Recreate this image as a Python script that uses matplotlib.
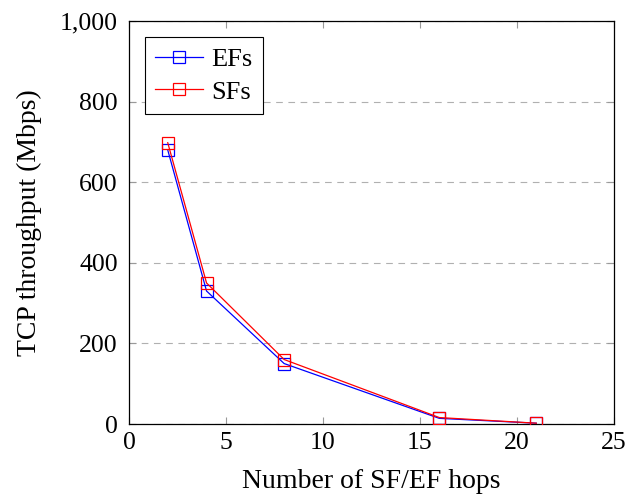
import matplotlib
matplotlib.use('Agg')
import matplotlib.pyplot as plt
from matplotlib.ticker import FuncFormatter

## Data
hops = [2, 4, 8, 16, 21]
ef_throughput = [680, 330, 150, 14, 2]
sf_throughput = [698, 350, 160, 16, 2]

plt.rcParams['font.family'] = ['Liberation Serif', 'DejaVu Serif']

fig = plt.figure(figsize=(6.29, 4.94), dpi=100)
ax = fig.add_axes([0.205, 0.1417, 0.771, 0.8158])

ax.plot(hops, ef_throughput, color='blue', lw=0.9, marker='s', markersize=8,
        markerfacecolor='none', markeredgewidth=0.9, label='EFs', zorder=3)
ax.plot(hops, sf_throughput, color='red', lw=0.9, marker='s', markersize=8,
        markerfacecolor='none', markeredgewidth=0.9, label='SFs', zorder=3)

ax.set_xlim(0, 25)
ax.set_ylim(0, 1000)
ax.set_xticks([0, 5, 10, 15, 20, 25])
ax.set_yticks([0, 200, 400, 600, 800, 1000])
ax.yaxis.set_major_formatter(FuncFormatter(lambda v, p: f'{int(v):,}'))
ax.yaxis.grid(True, color='#b0b0b0', linestyle=(0, (6, 5)), lw=0.8)
ax.set_axisbelow(True)
ax.tick_params(direction='in', top=True, right=True, length=5, width=0.8,
               color='#999999', labelsize=18.5)
ax.tick_params(axis='y', pad=8)
ax.tick_params(axis='x', pad=6)
for s in ax.spines.values():
    s.set_linewidth(0.9)

ax.set_xlabel('Number of SF/EF hops', fontsize=20)
ax.set_ylabel('TCP throughput (Mbps)', fontsize=20)
ax.xaxis.set_label_coords(0.5, -0.112)
ax.yaxis.set_label_coords(-0.18, 0.5)

leg = ax.legend(loc='upper left', fancybox=False, edgecolor='black',
                framealpha=1, fontsize=19, handlelength=1.8,
                borderaxespad=0.6, borderpad=0.4, labelspacing=0.35,
                handletextpad=0.3)
leg.get_frame().set_linewidth(0.8)

fig.savefig('out.png', dpi=100)
